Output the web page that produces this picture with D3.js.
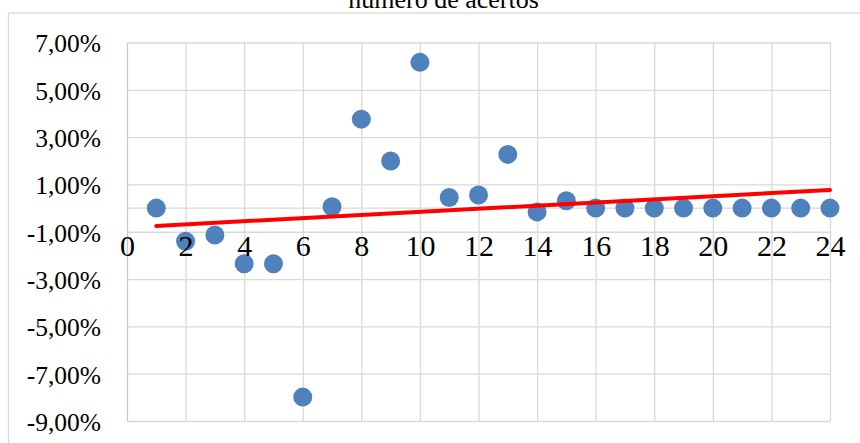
<!DOCTYPE html>
<html>
<head>
<meta charset="utf-8">
<script src="https://cdn.jsdelivr.net/npm/d3@7"></script>
<style>
  body { margin: 0; background: #fff; }
  svg { display: block; }
  text { font-family: "Liberation Serif", "Times New Roman", serif; fill: #000; }
</style>
</head>
<body>
<svg id="chart" width="860" height="443"></svg>
<script>
// Variação por número de acertos (em %)
const chartTitle = "número de acertos";
const acertos = [1, 2, 3, 4, 5, 6, 7, 8, 9, 10, 11, 12, 13, 14, 15, 16, 17, 18, 19, 20, 21, 22, 23, 24];
const variacao = [0.00, -1.40, -1.14, -2.35, -2.35, -7.99, 0.06, 3.76, 1.99, 6.16, 0.45, 0.55, 2.27, -0.16, 0.31,
                  0.00, 0.00, 0.00, 0.00, 0.00, 0.00, 0.00, 0.00, 0.00];
const xTicks = [0, 2, 4, 6, 8, 10, 12, 14, 16, 18, 20, 22, 24];
const yTicks = [-9, -7, -5, -3, -1, 1, 3, 5, 7];

const svg = d3.select("#chart");
const plot = { left: 127, right: 830, top: 42.5, bottom: 421 };

const x = d3.scaleLinear().domain([0, 24]).range([plot.left, plot.right]);
const y = d3.scaleLinear().domain([-9, 7]).range([plot.bottom, plot.top]);

const gridColor = "#d9d9d9";

// outer chart frame
svg.append("rect")
  .attr("x", 8.5).attr("y", 13)
  .attr("width", 900).attr("height", 500)
  .attr("fill", "none").attr("stroke", gridColor).attr("stroke-width", 1.3);

// title (partly above the visible area)
svg.append("text")
  .attr("x", 443.5).attr("y", 8)
  .attr("text-anchor", "middle")
  .style("font-size", "26px")
  .text(chartTitle);

// vertical gridlines
const vGrid = svg.append("g")
  .attr("transform", `translate(0,${plot.bottom})`)
  .call(d3.axisBottom(x).tickValues(xTicks).tickSize(-(plot.bottom - plot.top)).tickFormat(""));
vGrid.select(".domain").remove();
vGrid.selectAll(".tick line").attr("stroke", gridColor).attr("stroke-width", 1.3);
vGrid.selectAll(".tick").filter(d => d === 0).select("line").attr("stroke", "#c8c8c8");

// horizontal gridlines
const hGrid = svg.append("g")
  .attr("transform", `translate(${plot.left},0)`)
  .call(d3.axisLeft(y).tickValues(yTicks).tickSize(-(plot.right - plot.left)).tickFormat(""));
hGrid.select(".domain").remove();
hGrid.selectAll(".tick line").attr("stroke", gridColor).attr("stroke-width", 1.3);

// horizontal axis line at zero
svg.append("line")
  .attr("x1", plot.left).attr("x2", plot.right)
  .attr("y1", y(0)).attr("y2", y(0))
  .attr("stroke", gridColor).attr("stroke-width", 1.3);

// y tick labels
const fmtPct = v => v.toFixed(2).replace(".", ",") + "%";
const yAxis = svg.append("g")
  .attr("transform", `translate(${plot.left},0)`)
  .call(d3.axisLeft(y).tickValues(yTicks).tickSize(0).tickPadding(26).tickFormat(fmtPct));
yAxis.select(".domain").remove();
yAxis.selectAll("text")
  .attr("font-family", null)
  .attr("dy", "0.37em")
  .style("font-size", "25.5px");

// points
svg.append("g")
  .selectAll("circle")
  .data(acertos.map((a, i) => ({ a, v: variacao[i] })))
  .join("circle")
  .attr("cx", d => x(d.a))
  .attr("cy", d => y(d.v))
  .attr("r", 9.5)
  .attr("fill", "#4f81bd");

// linear trendline (least squares)
const n = acertos.length;
const mx = d3.mean(acertos), my = d3.mean(variacao);
let sxy = 0, sxx = 0;
for (let i = 0; i < n; i++) {
  sxy += (acertos[i] - mx) * (variacao[i] - my);
  sxx += (acertos[i] - mx) ** 2;
}
const slope = sxy / sxx, intercept = my - slope * mx;
const trend = [d3.min(acertos), d3.max(acertos)].map(a => [a, intercept + slope * a]);
svg.append("path")
  .attr("d", d3.line().x(d => x(d[0])).y(d => y(d[1]))(trend))
  .attr("fill", "none")
  .attr("stroke", "#ff0000")
  .attr("stroke-width", 4)
  .attr("stroke-linecap", "round");

// x tick labels sitting under the zero line
const xAxis = svg.append("g")
  .attr("transform", `translate(0,${y(0)})`)
  .call(d3.axisBottom(x).tickValues(xTicks).tickSize(0).tickFormat(d3.format("d")));
xAxis.select(".domain").remove();
xAxis.selectAll("text")
  .attr("font-family", null)
  .attr("y", 48)
  .attr("dy", 0)
  .style("font-size", "30px");
</script>
</body>
</html>
